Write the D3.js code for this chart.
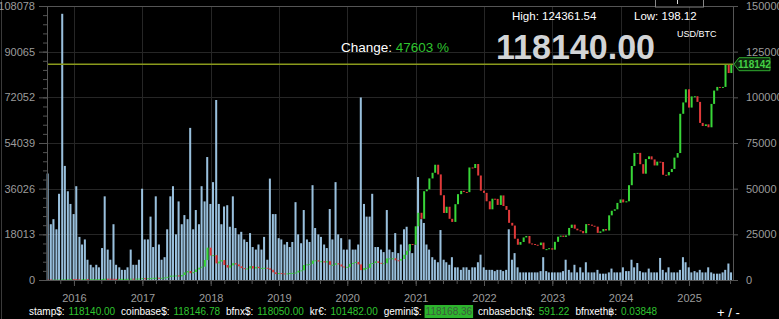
<!DOCTYPE html>
<html>
<head>
<meta charset="utf-8">
<script src="https://cdn.jsdelivr.net/npm/d3@7"></script>
<style>
  body { margin: 0; background: #000; overflow: hidden; }
  svg { display: block; font-family: "Liberation Sans", Arial, sans-serif; }
</style>
</head>
<body>
<svg id="chart" width="779" height="319"></svg>
<script>
// semi-monthly closes (1st and 15th), starting 2015-08-15
const closes = [
  261, 229, 230, 237, 262, 325, 333, 362, 455,
  432, 375, 372, 400, 432, 414, 417, 428, 450, 456, 536, 692, 676, 665, 608, 567, 575, 608, 616, 640, 730, 711, 755, 780,
  998, 822, 988, 1010, 1222, 1253, 1080, 1180, 1420, 1720, 2400, 2420, 2490, 1960, 2730, 4170, 4900, 3710, 4380, 5700, 6740, 7300, 10900, 17700,
  13400, 13600, 9100, 10100, 10900, 8200, 6800, 8000, 9200, 8500, 7500, 6500, 6350, 6350, 7600, 6300, 7200, 6500, 6600, 6700, 6350, 5600, 4200, 3250,
  3800, 3600, 3450, 3600, 3830, 3900, 4100, 5100, 5300, 8200, 8550, 8800, 10600, 10800, 10100, 10300, 9600, 10300, 8300, 8350, 9150, 8500, 7400, 7100,
  7200, 8800, 9350, 9900, 8550, 5400, 6600, 6650, 8800, 9300, 10200, 9400, 9200, 9200, 11800, 11850, 11900, 10800, 10600, 11500, 13800, 16000, 19700, 19400,
  29400, 36800, 33500, 48600, 49600, 55600, 58700, 63100, 57800, 46400, 36700, 40100, 33500, 31800, 41500, 47000, 48800, 48200, 48100, 61600, 61300, 63500, 57200, 48900,
  47700, 43100, 38700, 44500, 44400, 41100, 46300, 40500, 38400, 31300, 29800, 22600, 19300, 20800, 23300, 24100, 20000, 19700, 19300, 19100, 20500, 16900, 16900, 17400,
  16600, 20900, 23700, 24300, 23600, 24400, 28500, 30300, 28100, 27200, 26800, 25600, 30600, 30300, 29700, 29200, 25800, 26600, 27900, 27100, 35400, 37900, 38700, 42200,
  44100, 42500, 43100, 51900, 62400, 69500, 69600, 63400, 58200, 66200, 67700, 66000, 62700, 64800, 64600, 57600, 57300, 59100, 60800, 67000, 69500, 91000, 97200, 104400,
  94400, 100500, 100600, 97500, 86000, 84300, 85200, 83600, 96400, 103700, 105700, 105500, 105700, 117700, 113300, 118140
];
const firstOpen = 265;

// volume per period, thousands of BTC
const volumeK = [
  42, 22, 24, 20, 34, 105, 45, 35, 30,
  26, 37, 17, 14, 16, 8, 6, 5, 6, 5, 12.6, 33, 12, 8, 22, 6, 5, 4, 4, 5, 12, 6, 6, 8,
  36, 16, 16, 25, 13, 33, 14, 8, 9, 20, 33, 37, 18, 31, 22, 25.6, 24, 60, 20, 27.6, 22, 37, 31, 48.5,
  30, 38.6, 71, 30, 22, 29, 29.5, 21, 33, 20.5, 18, 19, 16, 15, 18.5, 13, 12, 14, 12, 17, 8, 40, 26, 26,
  16.5, 16, 14, 15, 13, 15, 30.7, 18, 14.5, 27.6, 16, 15, 37.4, 20.5, 18, 17, 14, 12.6, 28, 16, 38.6, 18, 16.5, 12,
  12, 16, 12, 12, 14, 72, 30, 25, 25, 34, 13, 13, 12, 11, 27.6, 12, 11, 18.5, 10.6, 14, 20, 21, 14, 10.6,
  14, 40.6, 24, 22.5, 14, 12, 9, 8, 7, 19.7, 8, 7, 6, 9, 5, 5, 4, 5, 5, 4, 5, 5, 7, 10,
  5, 4, 4, 4, 3.5, 4, 4, 3.5, 4, 20, 8, 10.6, 5, 3, 3, 3, 3, 3, 3, 3, 3.5, 9, 3.5, 3,
  3, 3, 3, 3, 3.5, 8, 4, 3, 6, 3, 5, 3, 7, 3, 3, 3, 4, 2.5, 2.5, 2.5, 3, 4.5, 3, 3,
  3, 5, 3.5, 3.5, 8, 5, 6.7, 3.5, 3, 3, 4.5, 3, 3, 3, 8.7, 4, 3, 5, 3, 3, 3, 4, 9, 7,
  5, 3, 3.5, 3, 4, 3, 3, 5, 3, 2.5, 2.5, 2.5, 3, 4, 6.5, 3
];

const volumeTicks = [0, 18013, 36026, 54039, 72052, 90065, 108078];
const priceTicks = [0, 25000, 50000, 75000, 100000, 125000, 150000];
const years = [2016, 2017, 2018, 2019, 2020, 2021, 2022, 2023, 2024, 2025];
const linePrice = 118142;

const header = { high: '124361.54', low: '198.12', change: '47603 %', last: '118140.00', pair: 'USD/BTC' };
const tickerNames = ['stamp$', 'coinbase$', 'bfnx$', 'kr€', 'gemini$', 'cnbasebch$', 'bfnxeth฿'];
const tickerValues = ['118140.00', '118146.78', '118050.00', '101482.00', '118168.36', '591.22', '0.03848'];
const highlighted = 'gemini$';

const svg = d3.select('#chart');
const plot = { left: 47, right: 733, top: 6, bottom: 280 };

const periods = closes.map((_, i) => new Date(2015, 7 + Math.ceil(i / 2), i % 2 ? 1 : 15));

const x = d3.scaleTime()
  .domain([new Date(2015, 7, 10), new Date(2025, 7, 24)])
  .range([plot.left, plot.right]);
const yVol = d3.scaleLinear().domain([0, 108078]).range([plot.bottom, plot.top]);
const yPrice = d3.scaleLinear().domain([0, 150000]).range([plot.bottom, plot.top]);

svg.append('rect').attr('width', 779).attr('height', 319).attr('fill', '#000');
svg.append('line').attr('x1', 1.5).attr('x2', 1.5).attr('y1', 0).attr('y2', 319).attr('stroke', '#3a3a3a');

// grid
const grid = svg.append('g').attr('stroke', '#262626').attr('stroke-width', 1);
grid.selectAll('.h').data(volumeTicks).join('line')
  .attr('x1', plot.left).attr('x2', plot.right)
  .attr('y1', d => Math.round(yVol(d)) + 0.5).attr('y2', d => Math.round(yVol(d)) + 0.5);
grid.selectAll('.v').data(years).join('line')
  .attr('x1', d => Math.round(x(new Date(d, 0, 1))) + 0.5).attr('x2', d => Math.round(x(new Date(d, 0, 1))) + 0.5)
  .attr('y1', plot.top).attr('y2', plot.bottom);

// volume
const step = x(periods[2]) - x(periods[1]);
svg.append('g').selectAll('rect').data(volumeK).join('rect')
  .attr('x', (d, i) => x(periods[i]) - step / 2)
  .attr('width', step - 0.6)
  .attr('y', d => yVol(d * 1000))
  .attr('height', d => plot.bottom - yVol(d * 1000))
  .attr('fill', '#a6d0f0')
  .attr('fill-opacity', 0.92);

// candles
const openOf = i => i ? closes[i - 1] : firstOpen;
svg.append('g').selectAll('rect').data(closes).join('rect')
  .attr('x', (d, i) => x(periods[i]) - 1)
  .attr('width', 2)
  .attr('y', (d, i) => yPrice(Math.max(d, openOf(i))))
  .attr('height', (d, i) => Math.max(1, Math.abs(yPrice(d) - yPrice(openOf(i)))))
  .attr('fill', (d, i) => d >= openOf(i) ? '#38d638' : '#e03a3a');

// last price line
const ly = yPrice(linePrice);
svg.append('line').attr('x1', plot.left).attr('x2', plot.right).attr('y1', ly).attr('y2', ly)
  .attr('stroke', '#8a9a1c').attr('stroke-width', 1.5);

// frame
svg.append('rect').attr('x', plot.left + 0.5).attr('y', plot.top + 0.5)
  .attr('width', plot.right - plot.left).attr('height', plot.bottom - plot.top)
  .attr('fill', 'none').attr('stroke', '#555');

// axes
function styleAxis(g) {
  g.select('.domain').remove();
  g.selectAll('line').attr('stroke', '#555');
  g.selectAll('text').attr('fill', '#9c9c9c').attr('font-size', 11)
    .attr('font-family', '"Liberation Sans", Arial, sans-serif');
}

svg.append('g').attr('transform', `translate(${plot.left},0)`)
  .call(d3.axisLeft(yVol).tickValues(d3.range(0, 108078, 18013 / 5)).tickSize(4).tickFormat(''))
  .call(styleAxis);
svg.append('g').attr('transform', `translate(${plot.left},0)`)
  .call(d3.axisLeft(yVol).tickValues(volumeTicks).tickSize(8).tickPadding(4).tickFormat(d3.format('d')))
  .call(styleAxis);

svg.append('g').attr('transform', `translate(${plot.right},0)`)
  .call(d3.axisRight(yPrice).tickValues(priceTicks).tickSize(5).tickPadding(8).tickFormat(d3.format('d')))
  .call(styleAxis);

const yearPx = years.map(d => x(new Date(d, 0, 1)));
const yearStep = (yearPx[yearPx.length - 1] - yearPx[0]) / (years.length - 1);
const minorX = d3.range(-1, 50).map(k => yearPx[0] + k * yearStep / 5).filter(p => p > plot.left && p < plot.right);
svg.append('g').attr('transform', `translate(0,${plot.bottom})`)
  .call(d3.axisBottom(x).tickValues(minorX.map(p => x.invert(p))).tickSize(4).tickFormat(''))
  .call(styleAxis);
svg.append('g').attr('transform', `translate(0,${plot.bottom})`)
  .call(d3.axisBottom(x).tickValues(years.map(d => new Date(d, 0, 1))).tickSize(6).tickPadding(8)
    .tickFormat(d3.timeFormat('%Y')))
  .call(styleAxis);

// price tag on right
const tag = svg.append('g');
tag.append('path')
  .attr('d', `M734,${ly} L739,${ly - 6.5} L770,${ly - 6.5} L770,${ly + 6.5} L739,${ly + 6.5} Z`)
  .attr('fill', '#0b250b').attr('stroke', '#2fa82f');
tag.append('text').attr('x', 754.5).attr('y', ly + 3.6).attr('text-anchor', 'middle')
  .attr('font-size', 10).attr('font-weight', 'bold').attr('fill', '#45d045').text(d3.format('d')(linePrice));

// top right control box
svg.append('rect').attr('x', 655.5).attr('y', -3).attr('width', 48).attr('height', 10)
  .attr('fill', '#000').attr('stroke', '#888');
svg.append('line').attr('x1', 677.5).attr('x2', 677.5).attr('y1', 0).attr('y2', 4).attr('stroke', '#ddd');

// header texts
svg.append('text').attr('x', 512).attr('y', 20).attr('font-size', 11.5).attr('fill', '#fff')
  .text('High: ' + header.high);
svg.append('text').attr('x', 634).attr('y', 20).attr('font-size', 11.5).attr('fill', '#fff')
  .text('Low: ' + header.low);
svg.append('text').attr('x', 677).attr('y', 37).attr('font-size', 9).attr('fill', '#fff')
  .text(header.pair);
const ch = svg.append('text').attr('x', 341).attr('y', 52).attr('font-size', 13.5);
ch.append('tspan').attr('fill', '#fff').text('Change: ');
ch.append('tspan').attr('fill', '#2fc42f').text(header.change);
svg.append('text').attr('x', 496).attr('y', 59).attr('font-size', 35).attr('font-weight', 'bold')
  .attr('fill', '#d2d4d6').attr('textLength', 159).attr('lengthAdjust', 'spacingAndGlyphs').text(header.last);

// ticker row
let cx = 29;
const ticker = svg.append('g').attr('font-size', 10);
tickerNames.forEach((name, i) => {
  const lab = ticker.append('text').attr('x', cx).attr('y', 315).attr('fill', '#fff').text(name + ':');
  cx += lab.node().getComputedTextLength() + 4;
  const isHi = name === highlighted;
  if (isHi) {
    ticker.append('rect').attr('x', cx - 1).attr('y', 305).attr('height', 13).attr('fill', '#2db42d').attr('class', 'hi');
  }
  const val = ticker.append('text').attr('x', cx).attr('y', 315)
    .attr('fill', isHi ? '#3d5a3d' : '#2fc42f').text(tickerValues[i]);
  const w = val.node().getComputedTextLength();
  if (isHi) ticker.select('rect.hi').attr('width', w + 2);
  cx += w + 6;
});
svg.append('text').attr('x', 717).attr('y', 317).attr('font-size', 13).attr('fill', '#fff').text('+ / -');
</script>
</body>
</html>
